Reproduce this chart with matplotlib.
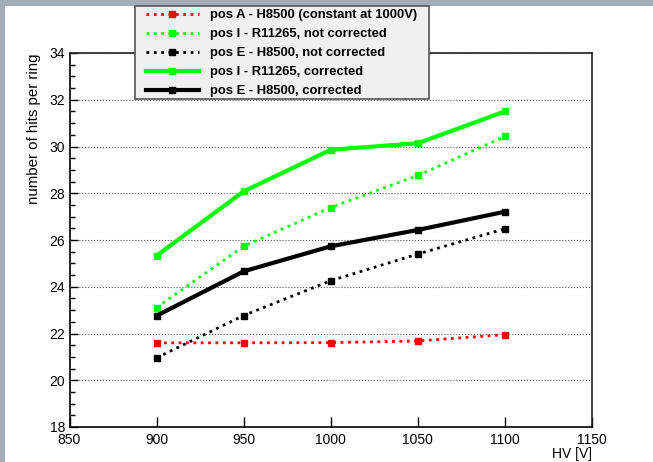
import matplotlib
matplotlib.use('Agg')
import matplotlib.pyplot as plt
from matplotlib.patches import Rectangle
from matplotlib.ticker import MultipleLocator

plt.rcParams['font.family'] = ['Liberation Sans', 'DejaVu Sans']

# data
hv = [900, 950, 1000, 1050, 1100]
posA_h8500 = [21.60, 21.60, 21.61, 21.68, 21.95]
posI_r11265_raw = [23.11, 25.73, 27.39, 28.76, 30.43]
posE_h8500_raw = [20.96, 22.77, 24.26, 25.40, 26.48]
posI_r11265_corr = [25.33, 28.08, 29.86, 30.14, 31.50]
posE_h8500_corr = [22.76, 24.66, 25.73, 26.43, 27.21]

labels = ['pos A - H8500 (constant at 1000V)',
          'pos I - R11265, not corrected',
          'pos E - H8500, not corrected',
          'pos I - R11265, corrected',
          'pos E - H8500, corrected']

W, H = 653, 462
fig = plt.figure(figsize=(W / 100, H / 100), dpi=100, facecolor='#a4adb5')
# white canvas inside the grey frame
fig.patches.append(Rectangle((5 / W, 0), 1, 1 - 6 / H, transform=fig.transFigure,
                             facecolor='white', edgecolor='none', zorder=-10))

ax = fig.add_axes([69.5 / W, 35 / H, (592 - 69.5) / W, (427 - 53) / H])
ax.set_facecolor('white')

ax.plot(hv, posA_h8500, color='#ff0000', ls=':', lw=2, marker='s', ms=5, label=labels[0])
ax.plot(hv, posI_r11265_raw, color='#00ff00', ls=':', lw=2, marker='s', ms=5, label=labels[1])
ax.plot(hv, posE_h8500_raw, color='black', ls=':', lw=2, marker='s', ms=5, label=labels[2])
ax.plot(hv, posI_r11265_corr, color='#00ff00', ls='-', lw=3, marker='s', ms=5, label=labels[3])
ax.plot(hv, posE_h8500_corr, color='black', ls='-', lw=3, marker='s', ms=5, label=labels[4])

ax.set_xlim(850, 1150)
ax.set_ylim(18, 34)
ax.xaxis.set_major_locator(MultipleLocator(50))
ax.yaxis.set_major_locator(MultipleLocator(2))
ax.yaxis.set_minor_locator(MultipleLocator(0.5))
ax.tick_params(axis='x', direction='in', length=7, width=1, labelsize=10, pad=4)
ax.tick_params(axis='y', which='major', direction='in', length=6, width=1, labelsize=10, pad=3)
ax.tick_params(axis='y', which='minor', direction='in', length=3.5, width=1)
ax.yaxis.grid(True, which='major', ls=':', color='#555555', lw=0.8)
for s in ax.spines.values():
    s.set_linewidth(1.2)
    s.set_color('#222222')
ax.spines['left'].set_color('black')
ax.spines['bottom'].set_color('black')

ax.set_xlabel('HV [V]', fontsize=10, loc='right', labelpad=0)
ax.set_ylabel('number of hits per ring', fontsize=10.8, loc='top', labelpad=6)

# legend box (ROOT TLegend style), frame drawn separately
fig.patches.append(Rectangle((135 / W, 1 - 99 / H), (429 - 135) / W, 93 / H,
                             transform=fig.transFigure, facecolor='#f0f0f0',
                             edgecolor='#555555', lw=1.2, zorder=3))
leg = fig.legend(loc='upper left', bbox_to_anchor=(145 / W, 1 - 8 / H),
                 borderaxespad=0, prop={'weight': 'bold', 'size': 9.4},
                 handlelength=4.0, handletextpad=0.85, labelspacing=0.52, borderpad=0.1,
                 frameon=False, markerscale=1.0)
leg.set_zorder(5)

fig.savefig('out.png', dpi=100, facecolor=fig.get_facecolor())
